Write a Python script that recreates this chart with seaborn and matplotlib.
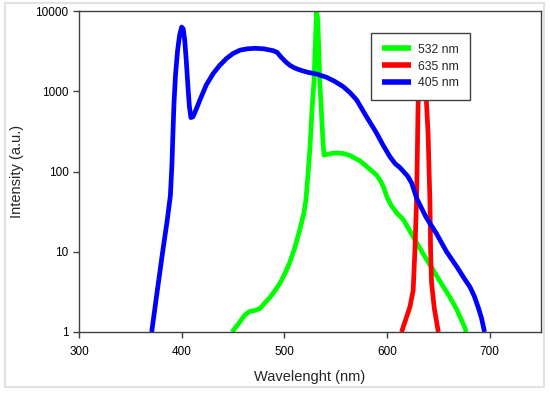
import numpy as np
import pandas as pd
import seaborn as sns
import matplotlib
matplotlib.use("Agg")
import matplotlib.pyplot as plt
from matplotlib.patches import Rectangle

# spectra (wavelength in nm, intensity in a.u.)
wl_405 = [370.8, 376, 381.5, 386, 389, 390.5, 391.5, 392.5, 394, 396, 398, 400,
          401.5, 403, 404.5, 406, 407.5, 409, 411, 414, 417.8, 424, 430.8, 437,
          443.8, 450, 456.8, 464, 471.4, 480, 489.2, 493, 497, 501, 505.5, 510,
          515.2, 523, 531.4, 541.2, 549, 557.4, 564, 570.4, 575, 580.1, 585,
          589.9, 596, 602.8, 608, 612.6, 616, 620, 624, 629, 638, 648, 658,
          668, 675, 681, 685, 689, 692, 695]
int_405 = [1, 3.1, 10, 25, 50, 120, 300, 700, 1600, 3200, 5000, 6300,
           6000, 4300, 2400, 1200, 650, 470, 480, 590, 780, 1200, 1670, 2100,
           2570, 2950, 3250, 3380, 3430, 3380, 3200, 3050, 2650, 2350, 2100, 1950,
           1840, 1720, 1640, 1490, 1330, 1140, 960, 780, 620, 480, 380,
           300, 215, 153, 125, 112, 100, 88, 72, 46, 27, 17, 10,
           6.5, 4.7, 3.6, 2.8, 2.0, 1.5, 1]

wl_532 = [449, 455, 461, 466, 471, 476, 481, 486, 491, 496, 501, 505, 510, 515,
          519, 521, 523, 525, 527, 529, 530.5, 531.5, 532.5, 533.5, 534.5, 536,
          537.5, 538.6, 543, 549, 557, 564, 574, 582, 590, 594, 597, 600, 604,
          609, 616, 625.5, 635, 645, 653, 661, 668, 676, 677]
int_532 = [1, 1.25, 1.6, 1.8, 1.85, 1.95, 2.3, 2.7, 3.3, 4.1, 5.5, 7.2, 11, 18.7,
           30, 44, 90, 200, 600, 1400, 5000, 9800, 8000, 3500, 1300, 600,
           250, 160, 165, 170, 168, 158, 135, 110, 90, 75, 62, 48, 38,
           31, 25, 15.4, 9.5, 5.9, 4, 2.75, 1.9, 1.12, 1]

wl_635 = [614.2, 618, 622.3, 625.5, 627.2, 628.8, 629.5, 630.2, 631, 634,
          637.5, 638.5, 640, 641, 641.8, 642.5, 643.4, 646, 650]
int_635 = [1, 1.4, 2.05, 3.3, 10.5, 44, 150, 600, 1500, 2200,
           1500, 700, 300, 100, 44, 10, 4.1, 2, 1]

labels = ["532 nm", "635 nm", "405 nm"]
colors = {"532 nm": "#00ff00", "635 nm": "#ff0000", "405 nm": "#0000ff"}

df = pd.concat([
    pd.DataFrame({"wl": wl_532, "I": int_532, "laser": "532 nm"}),
    pd.DataFrame({"wl": wl_635, "I": int_635, "laser": "635 nm"}),
    pd.DataFrame({"wl": wl_405, "I": int_405, "laser": "405 nm"}),
])

sns.set_style("ticks")
plt.rcParams["font.family"] = ["Liberation Sans", "DejaVu Sans"]

fig = plt.figure(figsize=(5.5, 3.95), dpi=100)
ax = fig.add_axes([79 / 550, 1 - 332 / 395, 462 / 550, 321 / 395])

sns.lineplot(data=df, x="wl", y="I", hue="laser", hue_order=labels,
             palette=colors, sort=False, estimator=None, units="laser",
             linewidth=3.4, ax=ax)
for ln in ax.get_lines():
    ln.set_solid_joinstyle("round")
    ln.set_solid_capstyle("butt")

ax.set_yscale("log")
ax.set_xlim(300, 750)
ax.set_ylim(1, 10000)
ax.set_xticks([300, 400, 500, 600, 700])
ax.set_yticks([1, 10, 100, 1000, 10000])
ax.set_yticklabels(["1", "10", "100", "1000", "10000"])
ax.minorticks_off()
ax.tick_params(axis="both", direction="out", length=4, width=1, color="#404040",
               labelsize=8.5, labelcolor="black")
ax.tick_params(axis="x", pad=6)
ax.tick_params(axis="y", pad=3.5)
for s in ax.spines.values():
    s.set_color("#404040")
    s.set_linewidth(1)
    s.set_visible(True)

ax.set_xlabel("Wavelenght (nm)", fontsize=10.5, labelpad=8.5)
ax.set_ylabel("Intensity (a.u.)", fontsize=10.5, labelpad=8)

leg = ax.legend(loc="upper left", bbox_to_anchor=(370.7 / 550, 1 - 32.7 / 395),
                bbox_transform=fig.transFigure, borderaxespad=0, fancybox=False,
                edgecolor="#404040", framealpha=1, fontsize=8.8, handlelength=2.4,
                handletextpad=0.6, labelspacing=0.4, borderpad=0.9, title=None)
leg.get_frame().set_linewidth(1)
for ln in leg.get_lines():
    ln.set_linewidth(4)

# light grey frame around the whole chart
fig.patches.append(Rectangle((5 / 550, 1 - 387 / 395), 539 / 550, 384 / 395,
                             transform=fig.transFigure, fill=False,
                             edgecolor="#e2e2e2", linewidth=1.5))

fig.savefig("out.png", dpi=100)
